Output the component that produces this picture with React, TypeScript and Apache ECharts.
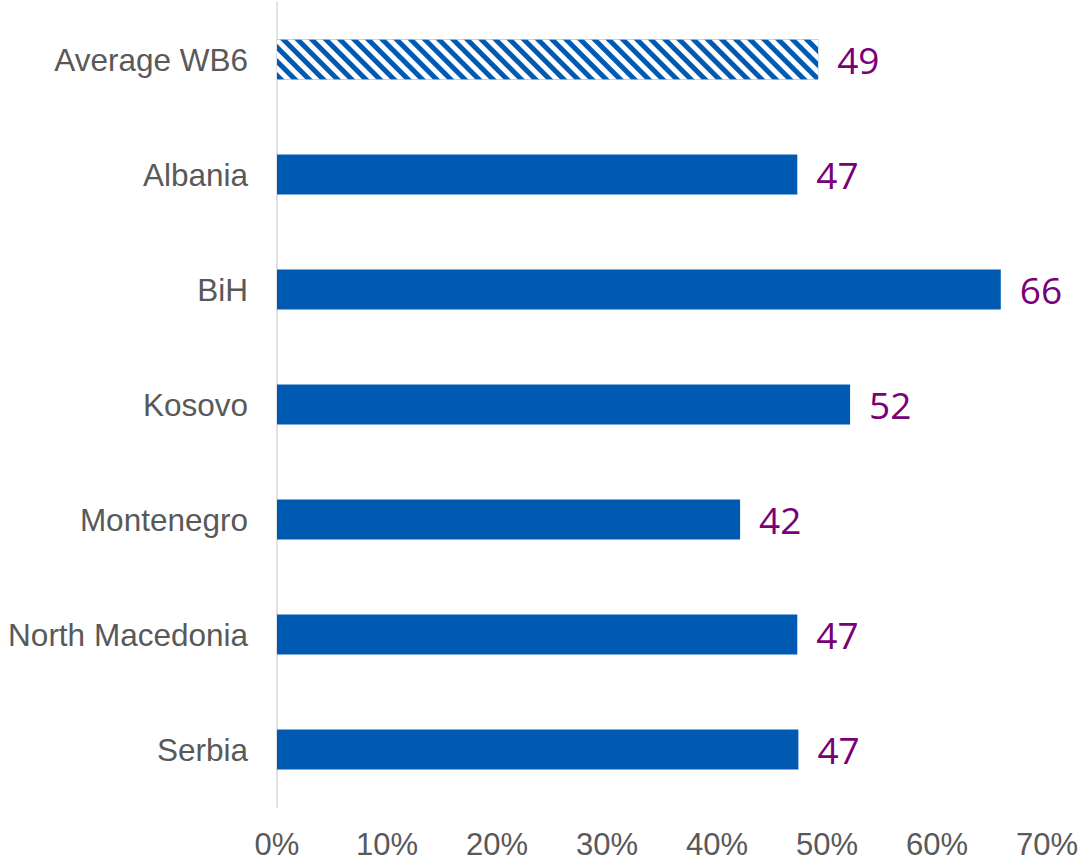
import React, { useEffect, useRef } from "react";
import * as echarts from "echarts";

const categories = ["Average WB6", "Albania", "BiH", "Kosovo", "Montenegro", "North Macedonia", "Serbia"];
const values = [49.2, 47.3, 65.8, 52.1, 42.1, 47.3, 47.4];
const xTicks = { min: 0, max: 70, interval: 10 };

const BLUE = "#005AB2";
const PURPLE = "#780078";
const GRAY = "#595959";

export default function App() {
  const ref = useRef<HTMLDivElement>(null);
  useEffect(() => {
    if (!ref.current) return;
    const chart = echarts.init(ref.current, undefined, { renderer: "svg" });
    const data = values.map((v, i) =>
      i === 0
        ? {
            value: v,
            itemStyle: {
              color: BLUE,
              decal: {
                symbol: "rect",
                symbolSize: 1,
                color: "#ffffff",
                dashArrayX: [1, 0],
                dashArrayY: [4.1, 4.1],
                rotation: Math.PI / 4,
              },
            },
          }
        : { value: v }
    );
    chart.setOption({
      animation: false,
      grid: { left: 277, right: 34, top: 2, bottom: 54, containLabel: false },
      xAxis: {
        type: "value",
        min: xTicks.min,
        max: xTicks.max,
        interval: xTicks.interval,
        axisLine: { show: false },
        axisTick: { show: false },
        splitLine: { show: false },
        axisLabel: {
          formatter: "{value}%",
          color: GRAY,
          fontSize: 31,
          fontFamily: "Liberation Sans",
          margin: 22,
        },
      },
      yAxis: {
        type: "category",
        data: categories,
        inverse: true,
        axisLine: { show: true, lineStyle: { color: "#D9D9D9", width: 1.5 } },
        axisTick: { show: false },
        axisLabel: {
          color: GRAY,
          fontSize: 31.5,
          fontFamily: "Liberation Sans",
          margin: 29,
        },
      },
      series: [
        {
          type: "bar",
          data,
          barWidth: 40,
          itemStyle: { color: BLUE },
          label: {
            show: true,
            position: "right",
            distance: 19,
            color: PURPLE,
            fontSize: 37,
            fontFamily: "Open Sans",
            formatter: (p: any) => String(Math.round(p.value)),
          },
        },
      ],
    });
    return () => chart.dispose();
  }, []);
  return (
    <div
      ref={ref}
      style={{ position: "fixed", left: 0, top: 0, width: 1081, height: 861, background: "#fff" }}
    />
  );
}
